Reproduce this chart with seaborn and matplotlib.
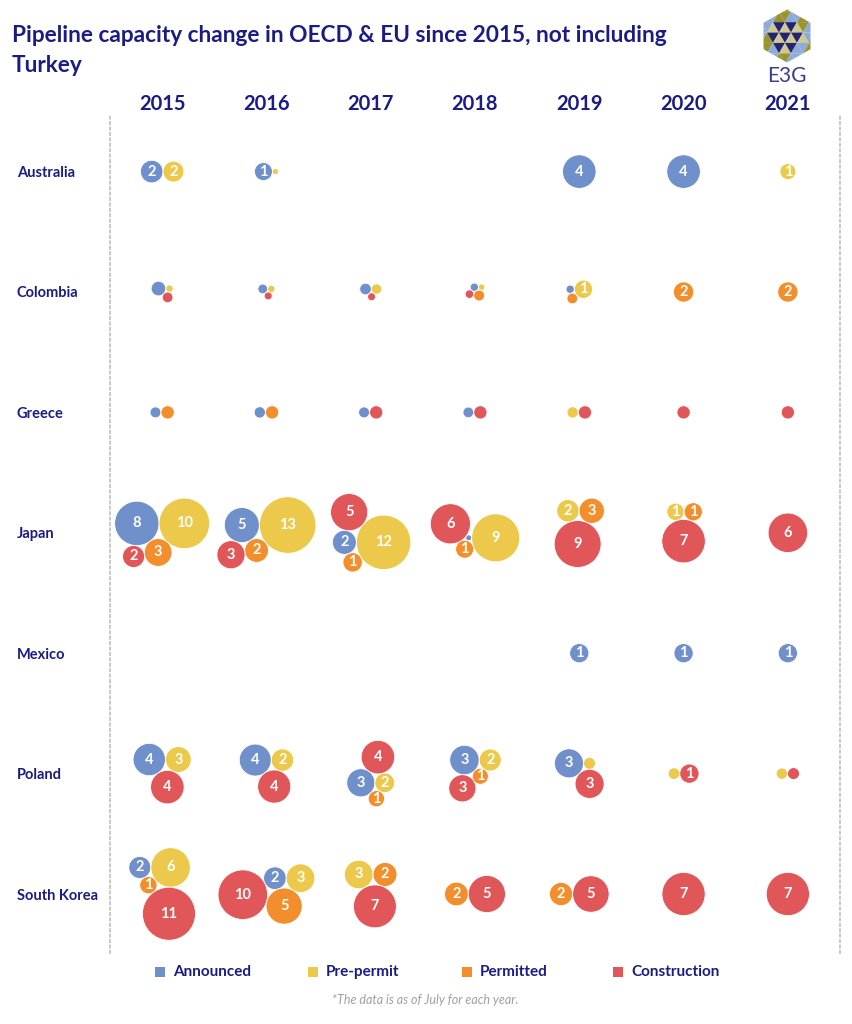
import numpy as np
import pandas as pd
import matplotlib
matplotlib.use("Agg")
import matplotlib.pyplot as plt
import seaborn as sns
from matplotlib.patches import Polygon

countries = ["Australia", "Colombia", "Greece", "Japan", "Mexico", "Poland", "South Korea"]
years = [2015, 2016, 2017, 2018, 2019, 2020, 2021]
statuses = ["Announced", "Pre-permit", "Permitted", "Construction"]

# pipeline capacity per country (rows) and year (columns), 0 = nothing in that stage
announced = [
    [2.0, 1.27, 0, 0, 4.4, 4.4, 0],
    [0.84, 0.37, 0.53, 0.27, 0.27, 0, 0],
    [0.47, 0.5, 0.47, 0.45, 0, 0, 0],
    [7.7, 4.8, 2.25, 0.14, 0, 0, 0],
    [0, 0, 0, 0, 1.45, 1.45, 1.45],
    [4.1, 4.0, 3.1, 3.4, 3.3, 0, 0],
    [1.9, 2.0, 0, 0, 0, 0, 0],
]
pre_permit = [
    [1.7, 0.14, 0, 0, 0, 0, 1.0],
    [0.21, 0.21, 0.42, 0.16, 1.3, 0, 0],
    [0, 0, 0, 0, 0.5, 0, 0],
    [10.0, 12.5, 11.6, 9.0, 1.95, 1.17, 0],
    [0, 0, 0, 0, 0, 0, 0],
    [2.6, 1.95, 1.5, 1.9, 0.56, 0.53, 0.5],
    [6.1, 3.2, 3.2, 0, 0, 0, 0],
]
permitted = [
    [0, 0, 0, 0, 0, 0, 0],
    [0, 0, 0, 0.47, 0.45, 1.6, 1.6],
    [0.69, 0.69, 0, 0, 0, 0, 0],
    [3.0, 2.2, 1.46, 1.27, 2.5, 1.3, 0],
    [0, 0, 0, 0, 0, 0, 0],
    [0, 0, 1.04, 1.0, 0, 0, 0],
    [1.17, 5.1, 2.25, 2.2, 2.1, 0, 0],
]
construction = [
    [0, 0, 0, 0, 0, 0, 0],
    [0.45, 0.25, 0.25, 0.29, 0, 0, 0],
    [0, 0, 0.69, 0.69, 0.69, 0.69, 0.69],
    [1.9, 3.1, 5.4, 6.3, 8.6, 7.4, 6.1],
    [0, 0, 0, 0, 0, 0, 0],
    [4.4, 4.3, 4.4, 2.9, 3.3, 1.45, 0.56],
    [11.0, 9.6, 7.2, 5.4, 5.2, 7.3, 7.3],
]

colors = {"Announced": "#7090cb", "Pre-permit": "#ecc94b",
          "Permitted": "#f28e2b", "Construction": "#e15759"}
navy = "#1b1b85"

W, H = 853, 1024
PX_PER_SQRT = 8.0   # bubble radius in px per sqrt(value)


def tangent_spots(c1, c2, r):
    # centres of a circle of radius r touching both c1 and c2 from outside
    (x1, y1, r1), (x2, y2, r2) = c1, c2
    d = np.hypot(x2 - x1, y2 - y1)
    a_, b_ = r1 + r, r2 + r
    if d == 0 or d > a_ + b_ or d < abs(a_ - b_):
        return []
    l = (a_**2 - b_**2 + d**2) / (2 * d)
    h = np.sqrt(max(a_**2 - l**2, 0))
    ux, uy = (x2 - x1) / d, (y2 - y1) / d
    mx, my = x1 + l * ux, y1 + l * uy
    return [(mx - h * uy, my + h * ux), (mx + h * uy, my - h * ux)]


def bbox(circles):
    xs = np.array([c[0] for c in circles])
    ys = np.array([c[1] for c in circles])
    rs = np.array([c[2] for c in circles])
    return (xs - rs).min(), (xs + rs).max(), (ys - rs).min(), (ys + rs).max()


def pack(radii):
    placed = []
    for r in radii:
        if not placed:
            placed.append((0.0, 0.0, r))
            continue
        if len(placed) == 1:
            x0, y0, r0 = placed[0]
            placed.append((x0 + r0 + r, y0, r))
            continue
        cands = []
        for i in range(len(placed)):
            for j in range(i + 1, len(placed)):
                cands += tangent_spots(placed[i], placed[j], r)
        ok = [c for c in cands
              if all(np.hypot(c[0] - p[0], c[1] - p[1]) >= p[2] + r - 1e-6 for p in placed)]
        if len(placed) == 2:
            best = max(ok, key=lambda c: c[1])  # y grows downwards: go below
        else:
            def cost(c):
                x0, x1, y0, y1 = bbox(placed + [(c[0], c[1], r)])
                return (x1 - x0) * (y1 - y0) + 1e-3 * np.hypot(*c)
            best = min(ok, key=cost)
        placed.append((best[0], best[1], r))
    x0, x1, y0, y1 = bbox(placed)
    xs = np.array([p[0] for p in placed]) - (x0 + x1) / 2
    ys = np.array([p[1] for p in placed]) - (y0 + y1) / 2
    return xs, ys


sns.set_theme(style="white")
plt.rcParams["font.family"] = ["Lato", "DejaVu Sans"]

fig = plt.figure(figsize=(W / 100, H / 100), dpi=100)
ax_l, ax_r, ax_t, ax_b = 110, 840, 115, 953
ax = fig.add_axes([ax_l / W, 1 - ax_b / H, (ax_r - ax_l) / W, (ax_b - ax_t) / H])
xlim = (2014.5, 2021.5)
ylim = (6.49, -0.47)
ax.set_xlim(*xlim)
ax.set_ylim(*ylim)
px_x = (ax_r - ax_l) / (xlim[1] - xlim[0])
px_y = (ax_b - ax_t) / (ylim[0] - ylim[1])

tables = dict(zip(statuses, [announced, pre_permit, permitted, construction]))
rows = []
for ci, country in enumerate(countries):
    for yi, year in enumerate(years):
        cell = [(s, tables[s][ci][yi]) for s in statuses if tables[s][ci][yi] > 0]
        if not cell:
            continue
        radii = [PX_PER_SQRT * np.sqrt(v) for _, v in cell]
        dx, dy = pack(radii)
        for (s, v), ox, oy in zip(cell, dx, dy):
            rows.append(dict(country=country, year=year, status=s, value=v,
                             x=year + ox / px_x, y=ci + oy / px_y))
df = pd.DataFrame(rows)

vmax = 13.0
smax = (2 * PX_PER_SQRT * np.sqrt(vmax) * 0.72) ** 2
sns.scatterplot(data=df, x="x", y="y", hue="status", palette=colors,
                size="value", sizes=(0, smax), size_norm=(0, vmax),
                edgecolor="white", linewidth=0.6, alpha=1, legend=False,
                ax=ax, zorder=3)

for _, r in df.iterrows():
    if r["value"] >= 0.95:
        ax.text(r["x"], r["y"], str(int(r["value"] + 0.5)), ha="center", va="center",
                color="white", fontsize=10.5, fontweight="bold", zorder=4)

ax.set_xlabel("")
ax.set_ylabel("")
ax.xaxis.tick_top()
ax.set_xticks(years)
ax.set_xticklabels([str(y) for y in years], fontsize=14.5, fontweight="bold", color=navy)
ax.set_yticks(range(len(countries)))
ax.set_yticklabels(countries, fontsize=10.5, fontweight="bold", color=navy)
for lab in ax.get_yticklabels():
    lab.set_horizontalalignment("left")
ax.tick_params(axis="x", length=0, pad=1)
ax.tick_params(axis="y", length=0, pad=(ax_l - 17) * 0.72)
ax.set_facecolor("none")
for side in ["top", "bottom"]:
    ax.spines[side].set_visible(False)
for side in ["left", "right"]:
    ax.spines[side].set_linestyle((0, (1.2, 1.8)))
    ax.spines[side].set_color("#c4c4c4")
    ax.spines[side].set_linewidth(1.3)

# title, legend, footnote and logo in pixel space
deco = fig.add_axes([0, 0, 1, 1], zorder=-1)
deco.set_xlim(0, W)
deco.set_ylim(H, 0)
deco.axis("off")

deco.text(12, 35, "Pipeline capacity change in OECD & EU since 2015, not including",
          fontsize=16.3, fontweight="bold", color=navy, va="center", ha="left")
deco.text(12, 65, "Turkey", fontsize=16.3, fontweight="bold", color=navy, va="center", ha="left")

leg_x = [160, 313, 467, 618]
for lx, s in zip(leg_x, statuses):
    deco.scatter([lx], [972], marker="s", s=56, color=colors[s], linewidths=0)
    deco.text(lx + 13, 972, s, fontsize=11, fontweight="bold", color=navy,
              va="center", ha="left")
deco.text(425, 1000, "*The data is as of July for each year.", fontsize=9,
          fontstyle="italic", color="#a0a0a0", ha="center", va="center")

# E3G logo: triangle grid clipped to a hexagon
lx0, ly0 = 787, 36
hx, hy = 23.5, 26.5
ang = np.deg2rad(90 + 60 * np.arange(6))
hexagon = Polygon(np.c_[lx0 + hx * np.cos(ang) / np.cos(np.pi / 6), ly0 + hy * np.sin(ang)],
                  closed=True, transform=deco.transData)
s_ = 12.0
ea = np.array([s_, 0.0])
eb = np.array([s_ / 2, s_ * np.sqrt(3) / 2])
logo_cols = {"navy": "#25256e", "beige": "#cdc894", "blue": "#8eaadb", "olive": "#9a9430"}
for i in range(-6, 7):
    for j in range(-6, 7):
        p = np.array([lx0, ly0]) + i * ea + j * eb - eb / 3 - ea / 2
        for k, tri in enumerate([[p, p + ea, p + eb], [p + ea, p + ea + eb, p + eb]]):
            c = np.mean(tri, axis=0) - [lx0, ly0]
            if np.hypot(*c) > hy + s_:
                continue
            if np.hypot(*c) < hy * 0.62:
                col = logo_cols["navy"] if k == 0 else logo_cols["beige"]
            else:
                col = logo_cols["blue"] if (i + j + k) % 2 == 0 else logo_cols["olive"]
            tp = Polygon(tri, closed=True, facecolor=col, edgecolor="none")
            deco.add_patch(tp)
            tp.set_clip_path(hexagon)
deco.text(lx0, 76, "E3G", fontsize=15, color="#3c3f8c", ha="center", va="center")

fig.savefig("out.png", dpi=100)
